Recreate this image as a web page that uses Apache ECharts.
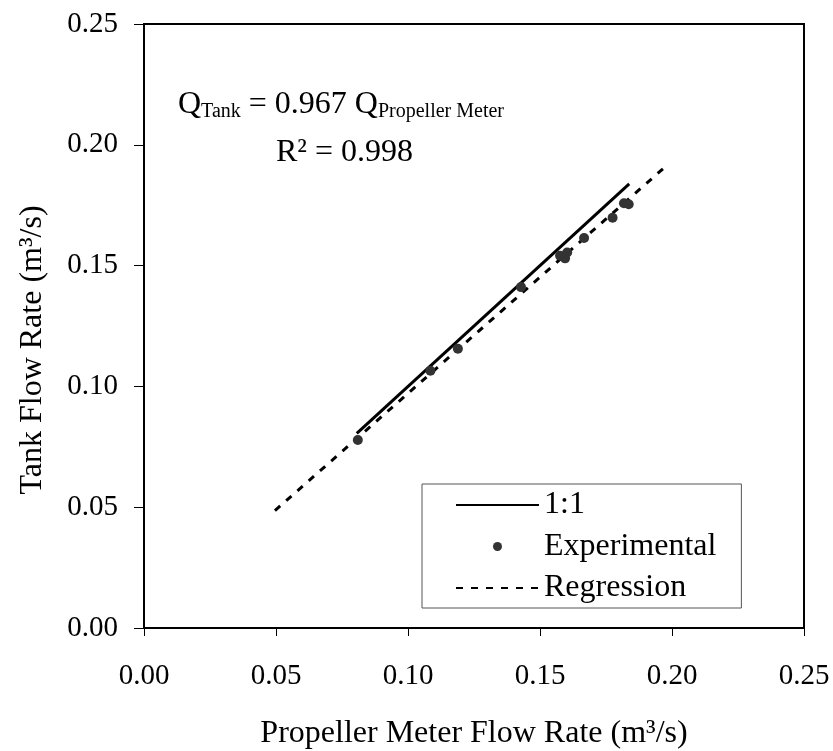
<!DOCTYPE html>
<html>
<head>
<meta charset="utf-8">
<script src="https://cdn.jsdelivr.net/npm/echarts@6/dist/echarts.min.js"></script>
<style>
  html, body { margin: 0; padding: 0; background: #fff; }
  #main { width: 833px; height: 751px; }
</style>
</head>
<body>
<div id="main"></div>
<script>
// data
var xTicks = [0, 0.05, 0.10, 0.15, 0.20, 0.25];
var yTicks = [0, 0.05, 0.10, 0.15, 0.20, 0.25];
// experimental points [propeller meter, tank]
var experimental = [
  [0.0810, 0.0778],
  [0.1085, 0.1065],
  [0.1189, 0.1156],
  [0.1428, 0.1411],
  [0.1576, 0.1541],
  [0.1595, 0.1530],
  [0.1603, 0.1554],
  [0.1667, 0.1614],
  [0.1775, 0.1698],
  [0.1818, 0.1758],
  [0.1836, 0.1754]
];
// 1:1 line ends
var oneToOne = [[0.0806, 0.0806], [0.1838, 0.1838]];
// regression line ends (Q = 0.967 Q)
var regression = [[0.0496, 0.0486], [0.1986, 0.1920]];

var font = 'Liberation Serif, Times New Roman, serif';

var myChart = echarts.init(document.getElementById('main'));
var option = {
  backgroundColor: '#fff',
  animation: false,
  textStyle: { fontFamily: font, color: '#000' },
  grid: {
    left: 144, right: 29, top: 24, bottom: 123,
    outerBoundsMode: 'none',
    show: true, borderColor: '#000', borderWidth: 2
  },
  legend: {
    orient: 'vertical',
    left: 422, top: 484,
    padding: [4, 25, 3, 33],
    itemWidth: 83, itemHeight: 9,
    itemGap: 7.5,
    borderColor: '#555', borderWidth: 1,
    backgroundColor: '#fff',
    textStyle: { fontFamily: font, fontSize: 32, color: '#000', lineHeight: 34 },
    data: [
      { name: '1:1', itemStyle: { opacity: 0 } },
      { name: 'Experimental' },
      { name: 'Regression', itemStyle: { opacity: 0 } }
    ]
  },
  xAxis: {
    type: 'value',
    min: xTicks[0], max: xTicks[xTicks.length - 1], interval: 0.05,
    name: 'Propeller Meter Flow Rate (m³/s)',
    nameLocation: 'middle', nameGap: 90,
    nameTextStyle: { fontFamily: font, fontSize: 32, color: '#000' },
    axisLine: { lineStyle: { color: '#000', width: 2 } },
    axisTick: { inside: false, length: 8, lineStyle: { color: '#000', width: 1 } },
    axisLabel: { fontFamily: font, fontSize: 29, color: '#000', margin: 34,
      formatter: function (v) { return v.toFixed(2); } },
    splitLine: { show: false }
  },
  yAxis: {
    type: 'value',
    min: yTicks[0], max: yTicks[yTicks.length - 1], interval: 0.05,
    axisLine: { lineStyle: { color: '#000', width: 2 } },
    axisTick: { inside: false, length: 10, lineStyle: { color: '#000', width: 1 } },
    axisLabel: { fontFamily: font, fontSize: 29, color: '#000', margin: 26,
      formatter: function (v) { return v.toFixed(2); } },
    splitLine: { show: false }
  },
  graphic: [
    {
      type: 'text', x: 33, y: 350, rotation: Math.PI / 2,
      style: { text: 'Tank Flow Rate (m³/s)', font: '32px ' + font, fill: '#000',
        align: 'center', verticalAlign: 'middle' }
    },
    {
      type: 'text', left: 178, top: 89,
      style: {
        text: '{m|Q}{s|Tank}{m| = 0.967 Q}{s|Propeller Meter}',
        rich: {
          m: { fontFamily: font, fontSize: 32, fill: '#000', lineHeight: 34 },
          s: { fontFamily: font, fontSize: 20, fill: '#000', lineHeight: 24, verticalAlign: 'bottom' }
        }
      }
    },
    {
      type: 'text', left: 276, top: 137,
      style: { text: 'R² = 0.998', font: '32px ' + font, fill: '#000' }
    }
  ],
  series: [
    {
      name: '1:1', type: 'line', symbol: 'none',
      lineStyle: { color: '#000', width: 3 },
      itemStyle: { color: '#000' },
      data: oneToOne, z: 3
    },
    {
      name: 'Experimental', type: 'scatter', symbol: 'circle', symbolSize: 10,
      itemStyle: { color: '#333', opacity: 1 },
      data: experimental, z: 4
    },
    {
      name: 'Regression', type: 'line', symbol: 'none',
      lineStyle: { color: '#000', width: 3, type: [7, 8] },
      itemStyle: { color: '#000' },
      data: regression, z: 3
    }
  ]
};
myChart.setOption(option);
</script>
</body>
</html>
